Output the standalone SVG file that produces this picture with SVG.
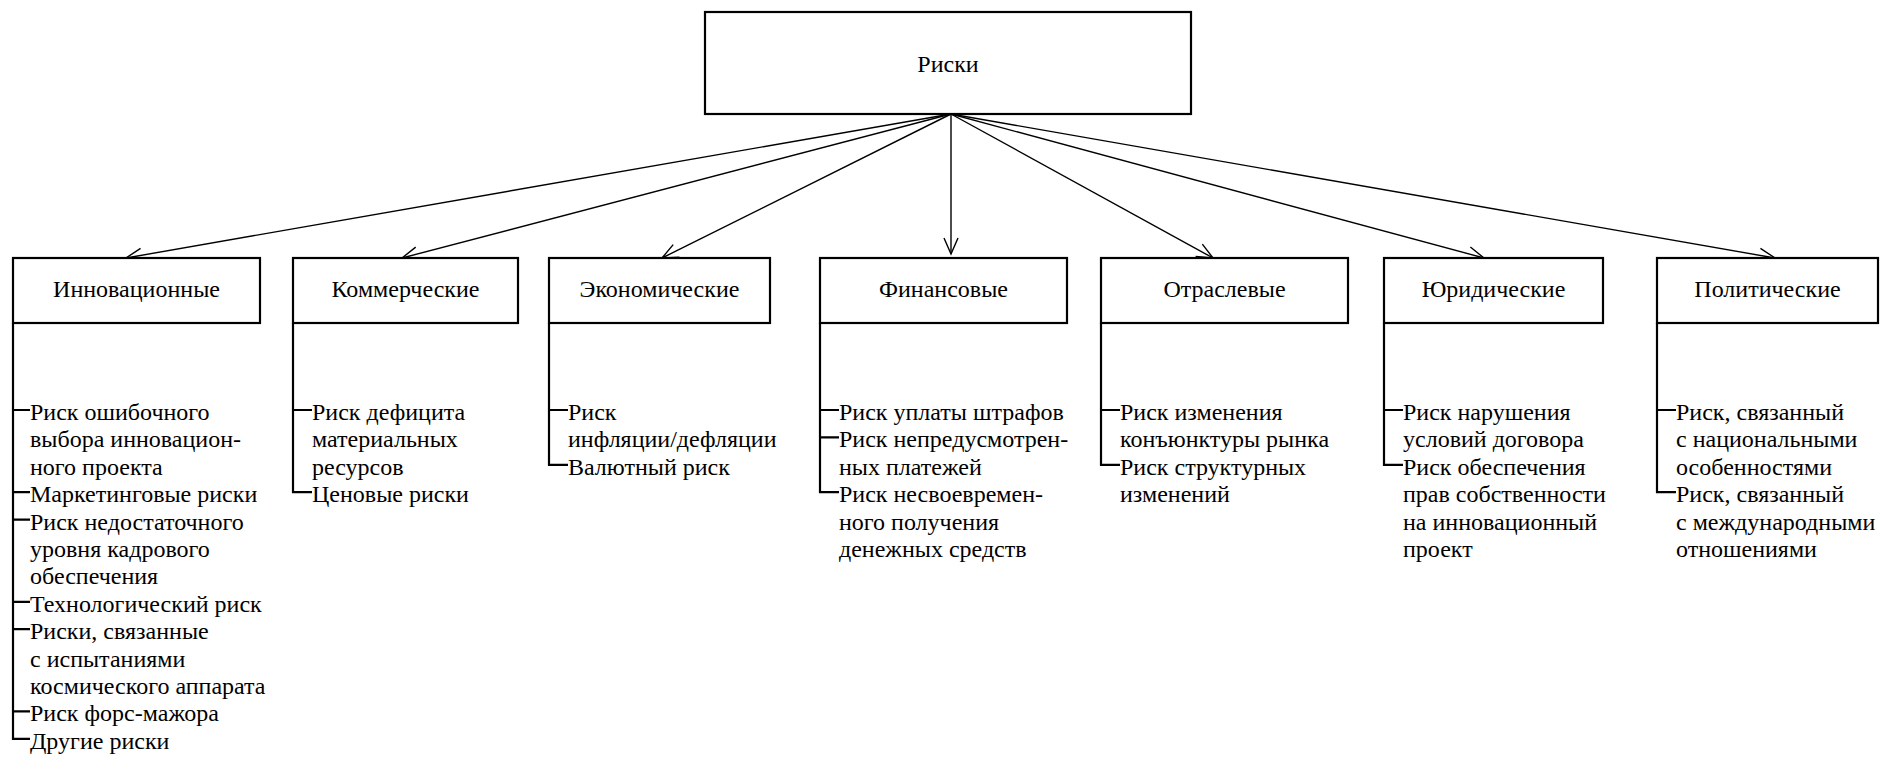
<svg xmlns="http://www.w3.org/2000/svg" width="1880" height="757" viewBox="0 0 1880 757">
<style>
.box{fill:#fff;stroke:#000;stroke-width:2.2}
text{font-family:'Times New Roman','Liberation Serif',Tinos,serif;font-size:24px;fill:#000}
.lbl{text-anchor:middle}
.conn{fill:none;stroke:#000;stroke-width:1.4}
.tree{fill:none;stroke:#000;stroke-width:2.2}
</style>
<defs>
<marker id="arr" markerUnits="userSpaceOnUse" markerWidth="20" markerHeight="18" viewBox="-17 -9 19 18" refX="0" refY="0" orient="auto">
<path d="M-16,-7 L0,0 L-16,7" fill="none" stroke="#000" stroke-width="1.4"/>
</marker>
</defs>
<rect width="1880" height="757" fill="#fff"/>
<g id="connectors">
<line class="conn" x1="951" y1="114" x2="126" y2="258" marker-end="url(#arr)"/>
<line class="conn" x1="951" y1="114" x2="402" y2="258" marker-end="url(#arr)"/>
<line class="conn" x1="951" y1="114" x2="662" y2="258" marker-end="url(#arr)"/>
<line class="conn" x1="951" y1="114" x2="951" y2="254" marker-end="url(#arr)"/>
<line class="conn" x1="951" y1="114" x2="1213" y2="258" marker-end="url(#arr)"/>
<line class="conn" x1="951" y1="114" x2="1484" y2="258" marker-end="url(#arr)"/>
<line class="conn" x1="951" y1="114" x2="1775" y2="258" marker-end="url(#arr)"/>
</g>
<g id="root">
<rect class="box" x="705" y="12" width="486" height="102"/>
<text class="lbl" x="948" y="72">Риски</text>
</g>
<g id="innov">
<rect class="box" x="13" y="258" width="247" height="65"/>
<text class="lbl" x="136.5" y="297">Инновационные</text>
<path class="tree" d="M13,323 V738.8 H30 M13,410 H30 M13,492.2 H30 M13,519.6 H30 M13,601.8 H30 M13,629.2 H30 M13,711.4 H30"/>
<text><tspan x="30" y="420">Риск ошибочного</tspan><tspan x="30" y="447.4">выбора инновацион-</tspan><tspan x="30" y="474.8">ного проекта</tspan><tspan x="30" y="502.2">Маркетинговые риски</tspan><tspan x="30" y="529.6">Риск недостаточного</tspan><tspan x="30" y="557">уровня кадрового</tspan><tspan x="30" y="584.4">обеспечения</tspan><tspan x="30" y="611.8">Технологический риск</tspan><tspan x="30" y="639.2">Риски, связанные</tspan><tspan x="30" y="666.6">с испытаниями</tspan><tspan x="30" y="694">космического аппарата</tspan><tspan x="30" y="721.4">Риск форс-мажора</tspan><tspan x="30" y="748.8">Другие риски</tspan></text>
</g>
<g id="comm">
<rect class="box" x="293" y="258" width="225" height="65"/>
<text class="lbl" x="405.5" y="297">Коммерческие</text>
<path class="tree" d="M293,323 V492.2 H312 M293,410 H312"/>
<text><tspan x="312" y="420">Риск дефицита</tspan><tspan x="312" y="447.4">материальных</tspan><tspan x="312" y="474.8">ресурсов</tspan><tspan x="312" y="502.2">Ценовые риски</tspan></text>
</g>
<g id="econ">
<rect class="box" x="549" y="258" width="221" height="65"/>
<text class="lbl" x="659.5" y="297">Экономические</text>
<path class="tree" d="M549,323 V464.8 H568 M549,410 H568"/>
<text><tspan x="568" y="420">Риск</tspan><tspan x="568" y="447.4">инфляции/дефляции</tspan><tspan x="568" y="474.8">Валютный риск</tspan></text>
</g>
<g id="fin">
<rect class="box" x="820" y="258" width="247" height="65"/>
<text class="lbl" x="943.5" y="297">Финансовые</text>
<path class="tree" d="M820,323 V492.2 H839 M820,410 H839 M820,437.4 H839"/>
<text><tspan x="839" y="420">Риск уплаты штрафов</tspan><tspan x="839" y="447.4">Риск непредусмотрен-</tspan><tspan x="839" y="474.8">ных платежей</tspan><tspan x="839" y="502.2">Риск несвоевремен-</tspan><tspan x="839" y="529.6">ного получения</tspan><tspan x="839" y="557">денежных средств</tspan></text>
</g>
<g id="branch">
<rect class="box" x="1101" y="258" width="247" height="65"/>
<text class="lbl" x="1224.5" y="297">Отраслевые</text>
<path class="tree" d="M1101,323 V464.8 H1120 M1101,410 H1120"/>
<text><tspan x="1120" y="420">Риск изменения</tspan><tspan x="1120" y="447.4">конъюнктуры рынка</tspan><tspan x="1120" y="474.8">Риск структурных</tspan><tspan x="1120" y="502.2">изменений</tspan></text>
</g>
<g id="legal">
<rect class="box" x="1384" y="258" width="219" height="65"/>
<text class="lbl" x="1493.5" y="297">Юридические</text>
<path class="tree" d="M1384,323 V464.8 H1403 M1384,410 H1403"/>
<text><tspan x="1403" y="420">Риск нарушения</tspan><tspan x="1403" y="447.4">условий договора</tspan><tspan x="1403" y="474.8">Риск обеспечения</tspan><tspan x="1403" y="502.2">прав собственности</tspan><tspan x="1403" y="529.6">на инновационный</tspan><tspan x="1403" y="557">проект</tspan></text>
</g>
<g id="polit">
<rect class="box" x="1657" y="258" width="221" height="65"/>
<text class="lbl" x="1767.5" y="297">Политические</text>
<path class="tree" d="M1657,323 V492.2 H1676 M1657,410 H1676"/>
<text><tspan x="1676" y="420">Риск, связанный</tspan><tspan x="1676" y="447.4">с национальными</tspan><tspan x="1676" y="474.8">особенностями</tspan><tspan x="1676" y="502.2">Риск, связанный</tspan><tspan x="1676" y="529.6">с международными</tspan><tspan x="1676" y="557">отношениями</tspan></text>
</g>
</svg>
